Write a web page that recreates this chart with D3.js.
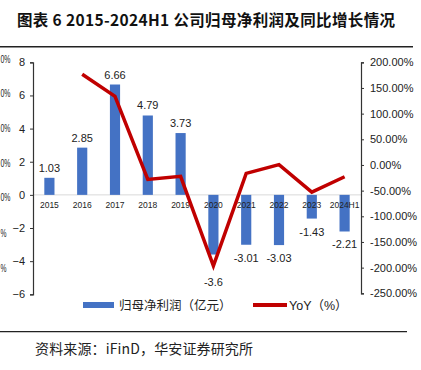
<!DOCTYPE html>
<html><head><meta charset="utf-8">
<script src="https://cdn.jsdelivr.net/npm/d3@7/dist/d3.min.js"></script>
<style>
body{margin:0;background:#fff;}
svg{display:block;font-family:"Liberation Sans",Arial,"Noto Sans CJK SC",sans-serif;}
</style></head><body>
<svg id="c" width="421" height="370"></svg>
<script>
const categories = ["2015","2016","2017","2018","2019","2020","2021","2022","2023","2024H1"];
const profit = [1.03, 2.85, 6.66, 4.79, 3.73, -3.6, -3.01, -3.03, -1.43, -2.21];
const yoy = [null, 176.7, 133.7, -28.1, -22.1, -196.5, -16.4, 0.7, -52.8, -23.0];
const leftTicks = [8, 6, 4, 2, 0, -2, -4, -6];
const rightTicks = [200, 150, 100, 50, 0, -50, -100, -150, -200, -250];
const clippedLeftLabels = ["0%","0%","0%","0%","0%","%","%"];

const svg = d3.select("#c");
const x0 = 33, x1 = 361;
const x = d3.scaleBand().domain(categories).range([x0, x1]).paddingInner(0.69).paddingOuter(0.345);
const y = d3.scaleLinear().domain([-6, 8]).range([294.3, 62.3]);
const y2 = d3.scaleLinear().domain([-250, 200]).range([293.3, 62.3]);
const cx = d => x(d) + x.bandwidth() / 2;

// title
svg.append("text").attr("x", 17).attr("y", 25.5)
  .attr("font-family", "'Noto Sans CJK SC','Liberation Sans',sans-serif")
  .attr("font-weight", "bold").attr("font-size", 15.5).attr("fill", "#111")
  .attr("textLength", 378).attr("lengthAdjust", "spacing")
  .text("图表 6 2015-2024H1 公司归母净利润及同比增长情况");
svg.append("line").attr("x1", 0).attr("x2", 413).attr("y1", 46.7).attr("y2", 46.7)
  .attr("stroke", "#222").attr("stroke-width", 1.5);

// partial labels at left edge (neighbouring axis in the source)
const leftClipY = [59, 93, 128, 163, 197, 233, 268];
svg.append("g").selectAll("text").data(clippedLeftLabels).join("text")
  .attr("x", 0.5).attr("y", (d, i) => leftClipY[i] + 4)
  .attr("font-size", 10).attr("fill", "#222")
  .attr("textLength", (d, i) => i < 5 ? 10 : 6).attr("lengthAdjust", "spacingAndGlyphs")
  .text(d => d);

// zero line
svg.append("line").attr("x1", x0).attr("x2", x1).attr("y1", y(0)).attr("y2", y(0))
  .attr("stroke", "#d9d9d9").attr("stroke-width", 1);

// bars
svg.append("g").selectAll("rect").data(profit).join("rect")
  .attr("x", (d, i) => x(categories[i]))
  .attr("y", d => y(Math.max(0, d)))
  .attr("width", x.bandwidth())
  .attr("height", d => Math.abs(y(d) - y(0)))
  .attr("fill", "#4472C4");

// left axis
const la = svg.append("g").attr("transform", `translate(${x0},0)`)
  .call(d3.axisLeft(y).tickValues(leftTicks).tickSize(3).tickPadding(5).tickFormat(d3.format("d")));
la.select(".domain").attr("stroke", "#333").attr("stroke-width", 1.2);
la.selectAll(".tick line").attr("stroke", "#333");
la.selectAll("text").attr("font-size", 11).attr("fill", "#222").attr("font-family", "'Liberation Sans',Arial,sans-serif");

// right axis
const ra = svg.append("g").attr("transform", `translate(${x1},0)`)
  .call(d3.axisRight(y2).tickValues(rightTicks).tickSize(3).tickPadding(6).tickFormat(d => d.toFixed(2) + "%"));
ra.select(".domain").attr("stroke", "#333").attr("stroke-width", 1.2);
ra.selectAll(".tick line").attr("stroke", "#333");
ra.selectAll("text").attr("font-size", 11).attr("fill", "#222").attr("font-family", "'Liberation Sans',Arial,sans-serif");

// category labels
svg.append("g").selectAll("text").data(categories).join("text")
  .attr("x", d => cx(d)).attr("y", y(0) + 13.5).attr("text-anchor", "middle")
  .attr("font-size", 8.5).attr("fill", "#222").text(d => d);

// line
const pts = yoy.map((v, i) => ({c: categories[i], v})).filter(p => p.v !== null);
svg.append("path").datum(pts)
  .attr("d", d3.line().x(p => cx(p.c)).y(p => y2(p.v)))
  .attr("fill", "none").attr("stroke", "#C00000").attr("stroke-width", 3.5).attr("stroke-linejoin", "miter");

// value labels
svg.append("g").selectAll("text").data(profit).join("text")
  .attr("x", (d, i) => cx(categories[i]))
  .attr("y", (d, i) => {
    if (d >= 0) return y(d) - 6;
    const ly = yoy[i] === null ? -Infinity : y2(yoy[i]);
    return Math.max(y(d) + 17, ly + 20);
  })
  .attr("text-anchor", "middle").attr("font-size", 11).attr("fill", "#222")
  .text(d => String(d));

// legend
const lg = svg.append("g");
lg.append("rect").attr("x", 83).attr("y", 302).attr("width", 31).attr("height", 6).attr("fill", "#4472C4");
lg.append("text").attr("x", 119).attr("y", 310).attr("font-size", 12.5).attr("fill", "#222")
  .attr("font-family", "'Noto Sans CJK SC',sans-serif").text("归母净利润（亿元）");
lg.append("line").attr("x1", 253).attr("x2", 287).attr("y1", 305).attr("y2", 305)
  .attr("stroke", "#C00000").attr("stroke-width", 4);
lg.append("text").attr("x", 289).attr("y", 310).attr("font-size", 12.5).attr("fill", "#222")
  .attr("font-family", "'Liberation Sans','Noto Sans CJK SC',sans-serif").text("YoY（%）");

// bottom rule & source
svg.append("line").attr("x1", 0).attr("x2", 407).attr("y1", 331.7).attr("y2", 331.7)
  .attr("stroke", "#222").attr("stroke-width", 1.2);
svg.append("text").attr("x", 35).attr("y", 353.5).attr("font-size", 14).attr("fill", "#222")
  .attr("font-family", "'Noto Sans CJK SC',sans-serif")
  .attr("textLength", 218).attr("lengthAdjust", "spacing")
  .text("资料来源：iFinD，华安证券研究所");
</script></body></html>
